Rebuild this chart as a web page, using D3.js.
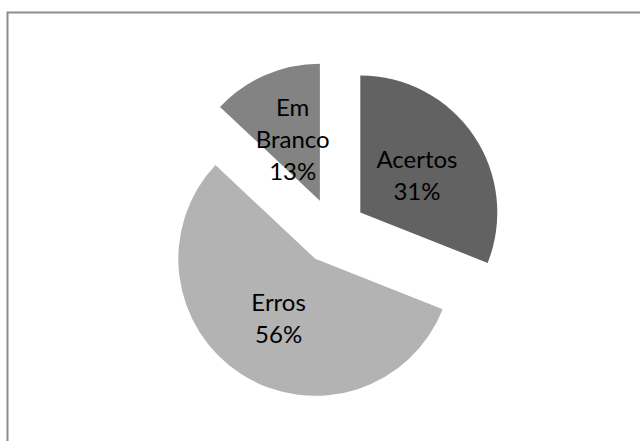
<!DOCTYPE html>
<html>
<head>
<meta charset="utf-8">
<script src="https://cdn.jsdelivr.net/npm/d3@7"></script>
<style>
  html, body { margin: 0; padding: 0; background: #fff; }
  svg { display: block; }
</style>
</head>
<body>
<svg id="chart" width="640" height="441"></svg>
<script>
// Answer breakdown
const categories = ["Acertos", "Erros", "Em Branco"];
const values = [31, 56, 13];
const labelLines = [["Acertos", "31%"], ["Erros", "56%"], ["Em", "Branco", "13%"]];
const colors = ["#626262", "#b3b3b3", "#838383"];

const W = 640, H = 441;
const cx = 333, cy = 231, radius = 137, explode = 33;

const svg = d3.select("#chart");

// Chart frame (top and left edges visible, continues past the viewport)
svg.append("rect")
  .attr("x", 7.5).attr("y", 12.5)
  .attr("width", W + 20).attr("height", H + 20)
  .attr("fill", "#fff")
  .attr("stroke", "#8c8c8c")
  .attr("stroke-width", 2);

const data = categories.map((c, i) => ({ name: c, value: values[i], lines: labelLines[i], color: colors[i] }));

const pie = d3.pie().value(d => d.value).sort(null);
const arc = d3.arc().innerRadius(0).outerRadius(radius);

const arcs = pie(data);

const g = svg.append("g").attr("transform", `translate(${cx},${cy})`);

const slice = g.selectAll("g.slice")
  .data(arcs)
  .join("g")
  .attr("class", "slice")
  .attr("transform", d => {
    const mid = (d.startAngle + d.endAngle) / 2;
    return `translate(${Math.sin(mid) * explode},${-Math.cos(mid) * explode})`;
  });

slice.append("path")
  .attr("d", arc)
  .attr("fill", d => d.data.color);

const lineH = 32;
slice.append("text")
  .attr("transform", d => {
    const [x, y] = arc.centroid(d);
    return `translate(${x},${y + 2})`;
  })
  .attr("text-anchor", "middle")
  .attr("font-family", "Lato, 'Open Sans', sans-serif")
  .attr("font-size", 24)
  .attr("fill", "#000")
  .each(function(d) {
    const n = d.data.lines.length;
    const t = d3.select(this);
    d.data.lines.forEach((ln, i) => {
      t.append("tspan")
        .attr("x", 0)
        .attr("y", (i - (n - 1) / 2) * lineH)
        .attr("dy", "0.35em")
        .text(ln);
    });
  });
</script>
</body>
</html>
